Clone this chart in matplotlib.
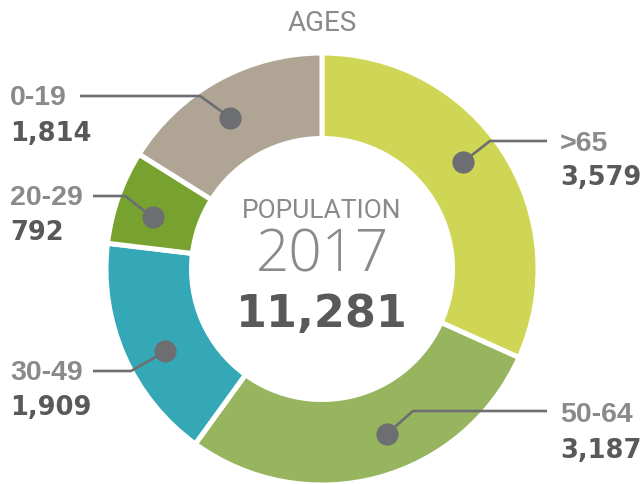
import matplotlib
matplotlib.use('Agg')
import matplotlib.pyplot as plt
import numpy as np

# ---- data ----
categories = ['>65', '50-64', '30-49', '20-29', '0-19']
values = [3579, 3187, 1909, 792, 1814]
title = 'AGES'
center_label = 'POPULATION'
center_year = '2017'

# ---- style ----
colors = ['#CFD655', '#97B55E', '#34A8B6', '#78A22F', '#B0A595']
label_gray = '#8A8A8D'
value_gray = '#58595B'
line_gray = '#6D6E71'

W, H = 642, 484
fig = plt.figure(figsize=(W / 100, H / 100), dpi=100)
ax = fig.add_axes([0, 0, 1, 1])

def py(y):  # pixel-from-top to data y
    return H - y

cx, cy = 322, py(269)
R = 216
ring = 85.5
wedges, _ = ax.pie(values, colors=colors, startangle=90, counterclock=False,
                   center=(cx, cy), radius=R, frame=True,
                   wedgeprops=dict(width=ring, edgecolor='white', linewidth=3.6))
ax.set_xlim(0, W)
ax.set_ylim(0, H)
ax.set_aspect('equal')
ax.set_axis_off()

# label layout: (text x, ha, label baseline, value baseline, elbow, line end x, angle offset)
layout = [
    (560, 'left', 151, 185, (490, 141), 547, 4.3),
    (560, 'left', 422, 458, (413, 411), 547, 6.7),
    (10, 'left', 380, 415, (131, 371), 93, 4.1),
    (10, 'left', 205, 240, (125, 196), 93, 2.5),
    (10, 'left', 105, 141, (200, 96), 80, 2.3),
]
dot_r = 177

for w, cat, val, lay in zip(wedges, categories, values, layout):
    tx, ha, lb, vb, (ex, ey), lend, aoff = lay
    mid = np.deg2rad((w.theta1 + w.theta2) / 2 + aoff)
    dx = cx + dot_r * np.cos(mid)
    dy = cy + dot_r * np.sin(mid)
    ax.plot([dx, ex, lend], [dy, py(ey), py(ey)], color=line_gray, lw=1.9,
            solid_capstyle='butt', zorder=3)
    ax.plot([dx], [dy], 'o', ms=16, color=line_gray, mec='none', zorder=4)
    ax.text(tx, py(lb), cat, ha=ha, va='baseline', fontsize=20.5,
            fontweight='bold', color=label_gray, family='Liberation Sans')
    ax.text(tx, py(vb), f'{val:,}', ha=ha, va='baseline', fontsize=18.5,
            fontweight='bold', color=value_gray, family='DejaVu Sans')

total = sum(values)
ax.text(cx, py(31), title, ha='center', va='baseline', fontsize=20,
        color=label_gray, family='Roboto')
ax.text(cx, py(218), center_label, ha='center', va='baseline', fontsize=19,
        color=label_gray, family='Roboto')
ax.text(cx, py(272), center_year, ha='center', va='baseline', fontsize=42,
        color=label_gray, family='Open Sans', fontweight='light')
ax.text(cx, py(327), f'{total:,}', ha='center', va='baseline', fontsize=32,
        color=value_gray, family='DejaVu Sans', fontweight='bold')

fig.savefig('out.png', dpi=100)
